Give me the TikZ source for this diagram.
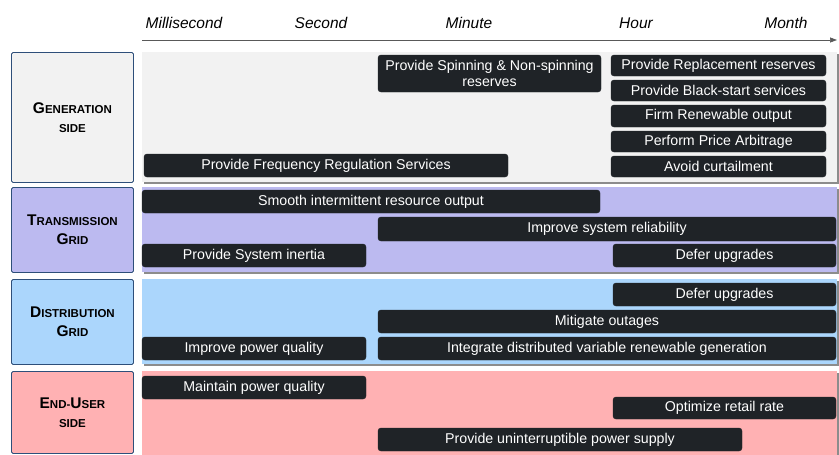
\documentclass[tikz,border=0pt]{standalone}
\usepackage{fontspec}
\setmainfont{Liberation Sans}
\usetikzlibrary{positioning,arrows.meta,shadows}
\definecolor{TaskBlack}{HTML}{1F2327}
\definecolor{GenGray}{HTML}{F2F2F2}
\definecolor{TransLilac}{HTML}{BCBAF0}
\definecolor{DistBlue}{HTML}{ABD6FC}
\definecolor{UserPink}{HTML}{FFB1B3}
\definecolor{FrameBlue}{HTML}{2E4F7A}
\newcommand{\rowcap}[2]{{\fontsize{15.5}{19}\selectfont #1}{\fontsize{11.5}{19}\selectfont #2}}

\begin{document}
\begin{tikzpicture}[
  x=1pt,y=-1pt,
  >=Stealth,
  task/.style={fill=TaskBlack,draw=TaskBlack,rounded corners=3pt,text=white,inner sep=0pt,outer sep=0pt,align=center,font=\fontsize{14.2}{16.5}\selectfont},
  band/.style={anchor=north west,inner sep=0pt,outer sep=0pt,minimum width=695pt,
    drop shadow={shadow xshift=2pt,shadow yshift=-2pt,fill=black!45,opacity=1}},
  rowbox/.style={anchor=north west,draw=FrameBlue,line width=0.9pt,rounded corners=1.5pt,minimum width=122pt,inner sep=0pt,align=center,
    font=\bfseries\fontsize{11.5}{19}\selectfont},
  timelabel/.style={anchor=base,font=\fontsize{15.5}{18}\selectfont\itshape},
  timeaxis/.style={-{Triangle[length=7pt,width=5pt]},line width=0.7pt,draw=black!65}
]
\useasboundingbox (0,0) rectangle (839,455);

% Time scale
\foreach \tname/\tx in {Millisecond/184,Second/321,Minute/469,Hour/636,Month/786} {
  \node[timelabel] (t\tname) at (\tx,28) {\tname};
}
\coordinate (axisstart) at (142,40);
\coordinate (axisend) at (837,40);
\draw[timeaxis] (axisstart) -- (axisend);

% Row labels and bands
\node[rowbox,fill=GenGray,minimum height=130pt] (genlabel) at (11,52) {\rowcap{G}{ENERATION}\\\rowcap{}{SIDE}};
\node[band,fill=GenGray,minimum height=130pt] (genband) at (142,52) {};
\node[rowbox,fill=TransLilac,minimum height=85pt] (translabel) at (11,187) {\rowcap{T}{RANSMISSION}\\\rowcap{G}{RID}};
\node[band,fill=TransLilac,minimum height=85pt] (transband) at (142,187) {};
\node[rowbox,fill=DistBlue,minimum height=85pt] (distlabel) at (11,279) {\rowcap{D}{ISTRIBUTION}\\\rowcap{G}{RID}};
\node[band,fill=DistBlue,minimum height=85pt] (distband) at (142,279) {};
\node[rowbox,fill=UserPink,minimum height=82pt] (userlabel) at (11,371) {\rowcap{E}{ND-}\rowcap{U}{SER}\\\rowcap{}{SIDE}};
\node[band,fill=UserPink,minimum height=84pt] (userband) at (142,371) {};

% Generation side
\foreach \xa/\ya/\xb/\yb/\txt [count=\k] in {
  378/55/601/92/{Provide Spinning \& Non-spinning\\reserves},
  611/55/826/76/{Provide Replacement reserves},
  611/80/826/101/{Provide Black-start services},
  611/105/826/127/{Firm Renewable output},
  611/131/826/152/{Perform Price Arbitrage},
  611/156/826/177/{Avoid curtailment},
  144/154/508/177/{Provide Frequency Regulation Services}} {
  \node[task,minimum width={(\xb-\xa)*1pt},minimum height={(\yb-\ya)*1pt}]
    (gen\k) at ({(\xa+\xb)/2},{(\ya+\yb)/2}) {\txt};
}

% Transmission grid
\foreach \xa/\ya/\xb/\yb/\txt [count=\k] in {
  142/190/600/213/{Smooth intermittent resource output},
  378/217/836/241/{Improve system reliability},
  142/244/366/267/{Provide System inertia},
  613/244/836/267/{Defer upgrades}} {
  \node[task,minimum width={(\xb-\xa)*1pt},minimum height={(\yb-\ya)*1pt}]
    (trans\k) at ({(\xa+\xb)/2},{(\ya+\yb)/2}) {\txt};
}

% Distribution grid
\foreach \xa/\ya/\xb/\yb/\txt [count=\k] in {
  613/283/836/306/{Defer upgrades},
  378/310/836/333/{Mitigate outages},
  142/337/366/360/{Improve power quality},
  378/337/836/360/{Integrate distributed variable renewable generation}} {
  \node[task,minimum width={(\xb-\xa)*1pt},minimum height={(\yb-\ya)*1pt}]
    (dist\k) at ({(\xa+\xb)/2},{(\ya+\yb)/2}) {\txt};
}

% End-user side
\foreach \xa/\ya/\xb/\yb/\txt [count=\k] in {
  142/376/366/399/{Maintain power quality},
  613/397/836/419/{Optimize retail rate},
  378/428/742/451/{Provide uninterruptible power supply}} {
  \node[task,minimum width={(\xb-\xa)*1pt},minimum height={(\yb-\ya)*1pt}]
    (user\k) at ({(\xa+\xb)/2},{(\ya+\yb)/2}) {\txt};
}

\end{tikzpicture}
\end{document}
